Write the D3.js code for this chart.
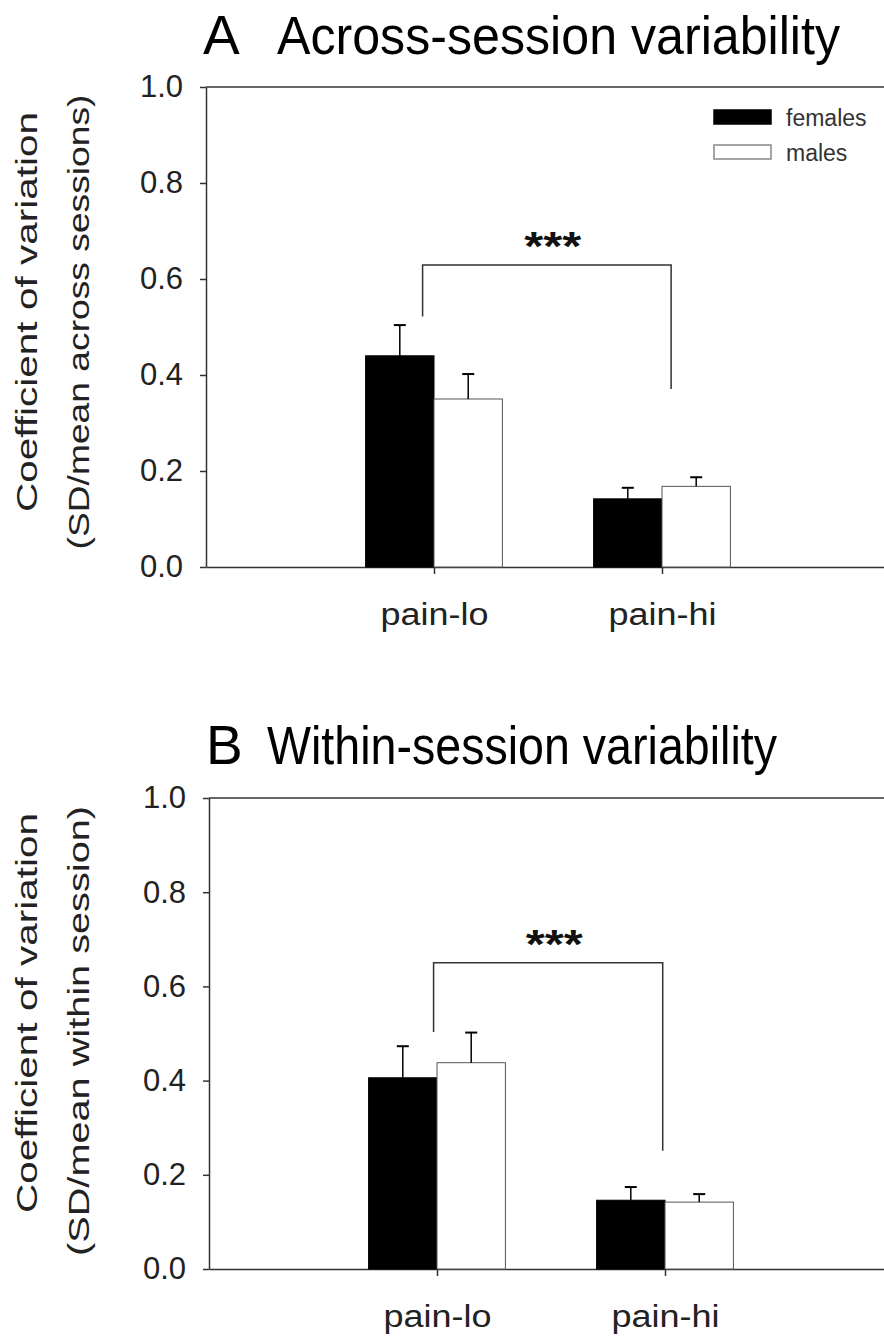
<!DOCTYPE html>
<html>
<head>
<meta charset="utf-8">
<script src="https://cdn.jsdelivr.net/npm/d3@7"></script>
<style>
  body { margin: 0; background: #fff; }
  text { font-family: "Liberation Sans", Arial, sans-serif; }
</style>
</head>
<body>
<div id="chart"></div>
<script>
// categories and groups
var groups = ["pain-lo", "pain-hi"];
var sexes = ["females", "males"];
var yTicks = [0, 0.2, 0.4, 0.6, 0.8, 1.0];

// panel A: across-session coefficient of variation (mean, SEM)
var acrossFemales = [0.44, 0.142];
var acrossFemalesErr = [0.064, 0.023];
var acrossMales = [0.35, 0.168];
var acrossMalesErr = [0.052, 0.019];

// panel B: within-session coefficient of variation (mean, SEM)
var withinFemales = [0.406, 0.146];
var withinFemalesErr = [0.067, 0.028];
var withinMales = [0.438, 0.142];
var withinMalesErr = [0.064, 0.017];

// significance brackets: [x start, x end] in category units, [bar top, left foot, right foot] in y units
var acrossBracketX = [0.95, 2.04];
var acrossBracketY = [0.629, 0.522, 0.371];
var withinBracketX = [0.985, 1.99];
var withinBracketY = [0.65, 0.503, 0.251];

var svg = d3.select("#chart")
  .append("svg")
    .attr("width", 884)
    .attr("height", 1340);

svg.append("rect").attr("width", 884).attr("height", 1340).attr("fill", "#fff");

function drawPanel(p) {
  var g = svg.append("g");

  var x = d3.scaleLinear().domain([0, 3]).range([p.left, p.left + 684]);
  var y = d3.scaleLinear().domain([0, 1]).range([p.bottom, p.top]);
  var bw = (x(1) - x(0)) * 0.3;

  // title
  g.append("text")
    .attr("x", p.left - 3).attr("y", p.titleY)
    .style("font-size", "55px").attr("fill", "#000")
    .text(p.letter);
  g.append("text")
    .attr("x", p.titleX).attr("y", p.titleY)
    .style("font-size", "54px").attr("fill", "#000")
    .attr("textLength", p.titleLen).attr("lengthAdjust", "spacingAndGlyphs")
    .text(p.title);

  // frame top line
  g.append("line")
    .attr("x1", x(0)).attr("x2", x(3))
    .attr("y1", y(1)).attr("y2", y(1))
    .attr("stroke", "#333").attr("stroke-width", 1.5);

  // Y axis
  var ya = g.append("g")
    .attr("transform", "translate(" + x(0) + ",0)")
    .call(d3.axisLeft(y).tickValues(yTicks).tickFormat(d3.format(".1f"))
      .tickSize(6).tickSizeOuter(0).tickPadding(17));
  ya.selectAll("text").style("font-size", "31px").attr("fill", "#222");
  ya.selectAll("line, path").attr("stroke", "#333").attr("stroke-width", 1.5);

  // X axis
  var xa = g.append("g")
    .attr("transform", "translate(0," + y(0) + ")")
    .call(d3.axisBottom(x).tickValues([1, 2]).tickFormat(function(d) { return groups[d - 1]; })
      .tickSize(7).tickSizeOuter(0).tickPadding(29));
  xa.selectAll("text").style("font-size", "31px").attr("fill", "#222")
    .attr("textLength", 108).attr("lengthAdjust", "spacingAndGlyphs");
  xa.selectAll("line, path").attr("stroke", "#333").attr("stroke-width", 1.5);

  // Y label, two lines
  g.append("text")
    .attr("transform", "translate(37," + p.label1Y + ") rotate(-90)")
    .attr("text-anchor", "middle")
    .style("font-size", "30px").attr("fill", "#222")
    .attr("textLength", p.label1Len).attr("lengthAdjust", "spacingAndGlyphs")
    .text("Coefficient of variation");
  g.append("text")
    .attr("transform", "translate(89," + p.label2Y + ") rotate(-90)")
    .attr("text-anchor", "middle")
    .style("font-size", "30px").attr("fill", "#222")
    .attr("textLength", p.label2Len).attr("lengthAdjust", "spacingAndGlyphs")
    .text(p.ylabel);

  // bars
  var rows = [];
  groups.forEach(function(grp, i) {
    rows.push({sex: "females", i: i, v: p.fem[i], e: p.femErr[i]});
    rows.push({sex: "males", i: i, v: p.mal[i], e: p.malErr[i]});
  });

  function bx(d) { return d.sex === "females" ? x(d.i + 1) - bw : x(d.i + 1); }

  g.selectAll(".bar")
    .data(rows)
    .enter().append("rect")
      .attr("x", bx)
      .attr("y", function(d) { return y(d.v); })
      .attr("width", bw)
      .attr("height", function(d) { return y(0) - y(d.v); })
      .attr("fill", function(d) { return d.sex === "females" ? "#000" : "#fff"; })
      .attr("stroke", function(d) { return d.sex === "females" ? "#000" : "#555"; })
      .attr("stroke-width", 1);

  // error bars (upper only)
  var eb = g.selectAll(".err").data(rows).enter().append("g");
  eb.append("line")
    .attr("x1", function(d) { return bx(d) + bw / 2; })
    .attr("x2", function(d) { return bx(d) + bw / 2; })
    .attr("y1", function(d) { return y(d.v); })
    .attr("y2", function(d) { return y(d.v + d.e); })
    .attr("stroke", "#000").attr("stroke-width", 1.5);
  eb.append("line")
    .attr("x1", function(d) { return bx(d) + bw / 2 - 6; })
    .attr("x2", function(d) { return bx(d) + bw / 2 + 6; })
    .attr("y1", function(d) { return y(d.v + d.e); })
    .attr("y2", function(d) { return y(d.v + d.e); })
    .attr("stroke", "#000").attr("stroke-width", 2);

  // significance bracket
  g.append("path")
    .attr("d", d3.line()([
      [x(p.bx[0]), y(p.by[1])],
      [x(p.bx[0]), y(p.by[0])],
      [x(p.bx[1]), y(p.by[0])],
      [x(p.bx[1]), y(p.by[2])]
    ]))
    .attr("fill", "none").attr("stroke", "#333").attr("stroke-width", 1.5);
  g.append("text")
    .attr("x", (x(p.bx[0]) + x(p.bx[1])) / 2 + 6)
    .attr("y", y(p.by[0]) - 5)
    .attr("text-anchor", "middle")
    .style("font-size", "40px").style("font-weight", "bold").attr("fill", "#111")
    .attr("textLength", 57).attr("lengthAdjust", "spacingAndGlyphs")
    .text("***");

  // legend
  if (p.legend) {
    var lg = g.append("g");
    sexes.forEach(function(s, k) {
      lg.append("rect")
        .attr("x", 714).attr("y", 110 + k * 35)
        .attr("width", 57).attr("height", 14)
        .attr("fill", s === "females" ? "#000" : "#fff")
        .attr("stroke", s === "females" ? "#000" : "#888")
        .attr("stroke-width", 1.5);
      lg.append("text")
        .attr("x", 786).attr("y", 126 + k * 35)
        .style("font-size", "23px").attr("fill", "#333")
        .text(s);
    });
  }
}

drawPanel({
  letter: "A", title: "Across-session variability", titleX: 277, titleY: 54, titleLen: 563,
  left: 206, top: 87, bottom: 567,
  label1Y: 312, label1Len: 400, label2Y: 322, label2Len: 455,
  ylabel: "(SD/mean across sessions)",
  fem: acrossFemales, femErr: acrossFemalesErr, mal: acrossMales, malErr: acrossMalesErr,
  bx: acrossBracketX, by: acrossBracketY, legend: true
});

drawPanel({
  letter: "B", title: "Within-session variability", titleX: 267, titleY: 764, titleLen: 510,
  left: 209, top: 798, bottom: 1269,
  label1Y: 1013, label1Len: 400, label2Y: 1031, label2Len: 450,
  ylabel: "(SD/mean within session)",
  fem: withinFemales, femErr: withinFemalesErr, mal: withinMales, malErr: withinMalesErr,
  bx: withinBracketX, by: withinBracketY, legend: false
});
</script>
</body>
</html>
